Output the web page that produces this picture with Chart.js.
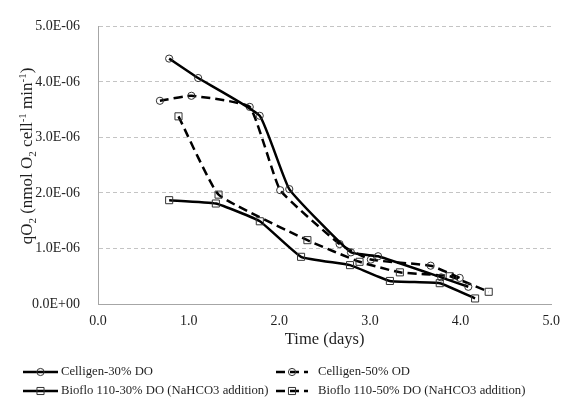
<!DOCTYPE html>
<html>
<head>
<meta charset="utf-8">
<script src="https://cdn.jsdelivr.net/npm/chart.js@4.4.1/dist/chart.umd.min.js"></script>
<style>
  html, body { margin: 0; padding: 0; background: #fff; }
  #wrap { width: 569px; height: 404px; position: relative; }
</style>
</head>
<body>
<div id="wrap"><canvas id="c" width="569" height="404"></canvas></div>
<script>
// ---- data (y values in nmol O2 cell^-1 min^-1) ----
const seriesNames = ['Celligen-30% DO', 'Celligen-50% OD', 'Bioflo 110-30% DO (NaHCO3 addition)', 'Bioflo 110-50% DO (NaHCO3 addition)'];

const celligen30Days = [0.785, 1.105, 1.784, 2.11, 2.79, 3.09, 3.785, 4.085];
const celligen30QO2  = [4.42e-6, 4.07e-6, 3.39e-6, 2.07e-6, 0.93e-6, 0.86e-6, 0.48e-6, 0.31e-6];

const celligen50Days = [0.683, 1.03, 1.674, 2.01, 2.665, 3.01, 3.67, 3.99];
const celligen50QO2  = [3.66e-6, 3.75e-6, 3.55e-6, 2.05e-6, 1.08e-6, 0.80e-6, 0.69e-6, 0.47e-6];

const bioflo30Days = [0.785, 1.30, 1.785, 2.24, 2.78, 3.22, 3.77, 4.16];
const bioflo30QO2  = [1.87e-6, 1.81e-6, 1.49e-6, 0.85e-6, 0.70e-6, 0.415e-6, 0.375e-6, 0.10e-6];

const bioflo50Days = [0.888, 1.33, 2.31, 2.885, 3.33, 3.88, 4.31];
const bioflo50QO2  = [3.38e-6, 1.97e-6, 1.15e-6, 0.76e-6, 0.57e-6, 0.50e-6, 0.22e-6];

const xTickLabels = ['0.0', '1.0', '2.0', '3.0', '4.0', '5.0'];
const yTickLabels = ['0.0E+00', '1.0E-06', '2.0E-06', '3.0E-06', '4.0E-06', '5.0E-06'];
const xTitle = 'Time (days)';

// ---- helpers ----
const toPts = (xs, ys) => xs.map((x, i) => ({ x: x, y: ys[i] }));
const FONT = "'Liberation Serif', 'Times New Roman', serif";
const DASH = [9, 5];
const TXT = '#1f1f1f';

function mkSet(label, xs, ys, dashed, style) {
  return {
    label: label,
    data: toPts(xs, ys),
    borderColor: '#000',
    borderWidth: 2.5,
    borderDash: dashed ? DASH : [],
    tension: 0.12,
    pointStyle: style,
    pointRadius: style === 'rect' ? 5 : 3.6,
    pointBorderColor: '#333',
    pointBorderWidth: 1,
    pointBackgroundColor: 'rgba(255,255,255,0)',
    fill: false
  };
}

// y-axis title with sub/superscripts
const yTitlePlugin = {
  id: 'yTitle',
  afterDraw(chart) {
    const ctx = chart.ctx;
    const parts = [
      ['qO', 0], ['2', 1], [' (nmol O', 0], ['2', 1], [' cell', 0], ['-1', -1], [' min', 0], ['-1', -1], [')', 0]
    ];
    const big = '17px ' + FONT, small = '11px ' + FONT;
    ctx.save();
    let total = 0;
    parts.forEach(p => { ctx.font = p[1] ? small : big; total += ctx.measureText(p[0]).width; });
    const cx = 28, cy = 156;
    ctx.translate(cx, cy);
    ctx.rotate(-Math.PI / 2);
    ctx.fillStyle = TXT;
    ctx.textBaseline = 'middle';
    let x = -total / 2;
    parts.forEach(p => {
      ctx.font = p[1] ? small : big;
      const dy = p[1] === 1 ? 5 : (p[1] === -1 ? -5 : 0);
      ctx.fillText(p[0], x, dy);
      x += ctx.measureText(p[0]).width;
    });
    ctx.restore();
  }
};

// two-column legend
const legendPlugin = {
  id: 'twoColLegend',
  afterDraw(chart) {
    const ctx = chart.ctx;
    const pos = [
      { x0: 23, x1: 58, tx: 61, y: 372 },
      { x0: 276, x1: 308, tx: 318, y: 372 },
      { x0: 23, x1: 58, tx: 61, y: 391 },
      { x0: 276, x1: 308, tx: 318, y: 391 }
    ];
    chart.data.datasets.forEach((ds, i) => {
      const p = pos[i];
      ctx.save();
      ctx.strokeStyle = ds.borderColor;
      ctx.lineWidth = ds.borderWidth;
      ctx.setLineDash(ds.borderDash);
      ctx.beginPath();
      ctx.moveTo(p.x0, p.y);
      ctx.lineTo(p.x1, p.y);
      ctx.stroke();
      ctx.setLineDash([]);
      ctx.fillStyle = 'rgba(255,255,255,0)';
      ctx.strokeStyle = ds.pointBorderColor;
      ctx.lineWidth = 1;
      Chart.helpers.drawPoint(ctx, {
        pointStyle: ds.pointStyle, radius: ds.pointRadius, rotation: 0, borderWidth: 1
      }, (p.x0 + p.x1) / 2, p.y);
      ctx.fillStyle = TXT;
      ctx.font = '12.7px ' + FONT;
      ctx.textBaseline = 'middle';
      ctx.fillText(ds.label, p.tx, p.y);
      ctx.restore();
    });
  }
};

new Chart(document.getElementById('c'), {
  type: 'line',
  data: {
    datasets: [
      mkSet(seriesNames[0], celligen30Days, celligen30QO2, false, 'circle'),
      mkSet(seriesNames[1], celligen50Days, celligen50QO2, true, 'circle'),
      mkSet(seriesNames[2], bioflo30Days, bioflo30QO2, false, 'rect'),
      mkSet(seriesNames[3], bioflo50Days, bioflo50QO2, true, 'rect')
    ]
  },
  options: {
    responsive: false,
    animation: false,
    layout: { padding: { left: 0, top: 15, right: 17, bottom: 48 } },
    plugins: { legend: { display: false }, tooltip: { enabled: false } },
    scales: {
      x: {
        type: 'linear', min: 0, max: 5,
        ticks: {
          stepSize: 1, padding: 9, color: TXT,
          font: { family: FONT, size: 14 },
          callback: (v, i) => xTickLabels[i]
        },
        grid: { display: false, drawTicks: false },
        border: { display: true, color: '#a6a6a6', width: 1 },
        title: { display: true, text: xTitle, color: TXT, font: { family: FONT, size: 16.5 }, padding: { top: 0, bottom: 6 } },
        afterFit: s => { s.height = 52; }
      },
      y: {
        type: 'linear', min: 0, max: 5e-6,
        ticks: {
          stepSize: 1e-6, padding: 18, color: TXT,
          font: { family: FONT, size: 14 },
          callback: (v, i) => yTickLabels[i]
        },
        grid: { color: '#c4c4c4', lineWidth: 1, drawTicks: false },
        border: { display: true, color: '#a6a6a6', width: 1, dash: [4, 3] },
        afterFit: s => { s.width = 98; }
      }
    }
  },
  plugins: [yTitlePlugin, legendPlugin]
});
</script>
</body>
</html>
